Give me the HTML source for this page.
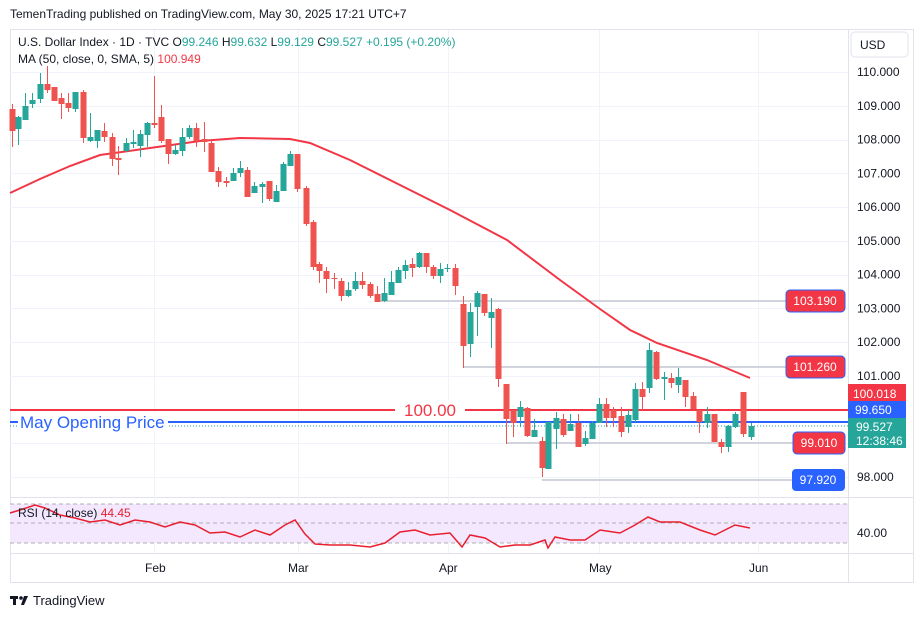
<!DOCTYPE html>
<html><head><meta charset="utf-8"><style>
body{margin:0;background:#fff;width:923px;height:618px;overflow:hidden;font-family:"Liberation Sans",sans-serif}
svg{position:absolute;left:0;top:0}
text{font-family:"Liberation Sans",sans-serif}
</style></head><body>
<svg id="s" width="923" height="618" xmlns="http://www.w3.org/2000/svg">
<text x="10" y="18" font-size="12" fill="#131722">TemenTrading published on TradingView.com, May 30, 2025 17:21 UTC+7</text>
<rect x="10.5" y="29.5" width="903" height="553" fill="none" stroke="#e0e3eb"/>
<line x1="848.5" y1="30" x2="848.5" y2="583" stroke="#e0e3eb"/>
<line x1="10" y1="553.5" x2="913" y2="553.5" stroke="#e0e3eb"/>
<line x1="10" y1="497.5" x2="913" y2="497.5" stroke="#e0e3eb"/>
<g id="grid" stroke="#f0f3fa"></g>
<g stroke="#f0f3fa"><line x1="154.5" y1="30" x2="154.5" y2="553"/><line x1="298.5" y1="30" x2="298.5" y2="553"/><line x1="448.5" y1="30" x2="448.5" y2="553"/><line x1="599.5" y1="30" x2="599.5" y2="553"/><line x1="758.5" y1="30" x2="758.5" y2="553"/></g>
<rect x="851" y="32" width="57" height="25" rx="4" fill="#fff" stroke="#e0e3eb"/>
<text x="860" y="49" font-size="12" fill="#131722">USD</text>
<g id="ax" font-size="12" fill="#131722"></g>
<rect x="10" y="504" width="838" height="39" fill="#f3e8fd"/>
<g stroke="#9598a1" stroke-dasharray="4,3" stroke-width="0.8"><line x1="10" y1="504" x2="848" y2="504"/><line x1="10" y1="523" x2="848" y2="523"/><line x1="10" y1="543" x2="848" y2="543"/></g>
<polyline fill="none" stroke="#e91e2e" stroke-width="1.5" points="10,513 20,510 35,505 45,508 60,515 75,518 90,522 105,520 120,525 135,520 150,522 165,527 180,522 195,525 210,533 225,532 240,537 255,530 270,535 285,525 295,520 305,534 315,544 330,545 350,545 370,547 385,543 400,532 415,530 430,535 450,533 462,547 470,535 485,538 500,547 515,545 530,545 545,540 548,548 555,537 570,540 585,540 600,530 620,533 635,525 648,517 660,522 680,522 700,530 715,535 735,525 750,528"/>
<text x="18" y="517" font-size="12" fill="#131722">RSI (14, close) <tspan fill="#e91e2e">44.45</tspan></text>
<text x="857" y="537" font-size="12" fill="#131722">40.00</text>
<g font-size="12" fill="#131722"><text x="145" y="572">Feb</text><text x="288" y="572">Mar</text><text x="439" y="572">Apr</text><text x="589" y="572">May</text><text x="749" y="572">Jun</text></g>
<g stroke="#d1d4dc" stroke-width="2"><line x1="380" y1="301" x2="790" y2="301"/><line x1="463" y1="367" x2="790" y2="367"/><line x1="506" y1="443" x2="793" y2="443"/><line x1="542" y1="480" x2="793" y2="480"/></g>
<line x1="10" y1="410" x2="848" y2="410" stroke="#f23645" stroke-width="2"/>
<rect x="395" y="400" width="70" height="20" fill="#fff"/>
<text x="430" y="416" font-size="17" fill="#f23645" text-anchor="middle">100.00</text>
<line x1="10" y1="422" x2="848" y2="422" stroke="#2962ff" stroke-width="2"/>
<line x1="10" y1="426" x2="848" y2="426" stroke="#26a69a" stroke-dasharray="1,2"/>
<rect x="18" y="413" width="150" height="18" fill="#fff"/>
<text x="20" y="428" font-size="17" fill="#2962ff">May Opening Price</text>
<polyline fill="none" stroke="#f23645" stroke-width="2" points="10,193 40,179 70,166 100,155 150,148 200,141 240,138 290,139 310,143 350,160 400,185 450,210 507,240 560,280 600,309 630,330 657,343 707,360 750,378"/>
<g id="c"></g>
<g font-size="12" fill="#fff">
<rect x="786" y="290" width="59" height="22" rx="4" fill="#f23645" stroke="#2962ff"/><text x="815" y="305" text-anchor="middle">103.190</text>
<rect x="786" y="356" width="59" height="22" rx="4" fill="#f23645" stroke="#2962ff"/><text x="815" y="371" text-anchor="middle">101.260</text>
<rect x="793" y="432" width="52" height="22" rx="4" fill="#f23645" stroke="#2962ff"/><text x="819" y="447" text-anchor="middle">99.010</text>
<rect x="792" y="469" width="53" height="22" rx="4" fill="#2962ff"/><text x="818" y="484" text-anchor="middle">97.920</text>
<rect x="848" y="384" width="58" height="19" fill="#f23645"/><text x="853" y="398">100.018</text>
<rect x="848" y="401" width="58" height="18" fill="#2962ff"/><text x="855" y="414">99.650</text>
<rect x="848" y="418" width="58" height="30" fill="#26a69a"/><text x="856" y="431">99.527</text><text x="856" y="445">12:38:46</text>
</g>
<text x="18" y="46" font-size="12" fill="#131722">U.S. Dollar Index · 1D · TVC O<tspan fill="#26a69a">99.246 </tspan>H<tspan fill="#26a69a">99.632 </tspan>L<tspan fill="#26a69a">99.129 </tspan>C<tspan fill="#26a69a">99.527 +0.195 (+0.20%)</tspan></text>
<text x="18" y="63" font-size="12" fill="#131722">MA (50, close, 0, SMA, 5) <tspan fill="#f23645">100.949</tspan></text>
<g fill="#131722"><rect x="10" y="596" width="8" height="3"/><rect x="13" y="596" width="3" height="9"/><circle cx="21" cy="598" r="1.8"/><path d="M24 596h4l-4 9h-3z"/></g>
<text x="33" y="605" font-size="13" fill="#131722">TradingView</text>
</svg>
<script>
var ns="http://www.w3.org/2000/svg",g=document.getElementById('c');
function el(t,a,p){var e=document.createElementNS(ns,t);for(var k in a)e.setAttribute(k,a[k]);p.appendChild(e);return e;}
var D=[[12,109,131,104,147,0],[18,117,129,116,145,1],[25,106,120,93,120,1],[32,100,104,93,108,1],[40,84,99,73,103,1],[47,84,90,66,93,0],[54,87,101,87,101,0],[61,98,104,93,119,0],[68,103,108,93,112,0],[75,92,109,92,112,1],[83,92,138,90,143,0],[90,137,141,113,142,1],[97,130,141,130,148,1],[104,131,137,123,142,0],[112,137,159,133,166,0],[118,158,160,146,175,0],[126,143,151,138,152,1],[133,142,144,130,148,1],[140,134,146,130,157,1],[147,123,135,122,147,1],[154,123,125,76,128,0],[161,117,141,105,143,0],[168,139,154,139,164,0],[175,150,154,145,155,1],[182,137,151,128,156,1],[189,128,137,125,139,1],[196,128,141,123,147,0],[204,139,142,122,152,0],[211,143,172,140,172,0],[218,171,182,167,187,0],[226,181,183,177,187,0],[233,173,181,168,181,1],[240,168,173,161,177,1],[247,170,197,167,197,0],[254,186,193,182,193,1],[262,184,187,182,203,1],[269,181,199,181,201,0],[276,191,202,185,202,1],[283,164,191,162,191,1],[290,154,166,151,166,1],[297,154,189,154,192,0],[306,188,224,186,226,0],[313,222,267,220,270,0],[319,264,271,262,283,0],[326,271,279,267,293,0],[334,278,279,273,289,0],[341,281,296,278,301,0],[348,290,296,282,297,1],[355,281,289,272,291,1],[362,281,285,272,289,0],[370,284,296,282,298,0],[377,294,302,286,302,0],[384,293,301,278,302,1],[391,282,295,271,295,1],[398,270,283,267,283,1],[405,265,271,260,279,1],[412,264,268,258,277,0],[419,253,267,252,268,1],[426,253,267,253,273,0],[433,267,276,265,279,0],[440,269,276,263,283,1],[447,268,269,264,272,1],[455,268,286,264,295,0],[463,304,346,296,368,0],[470,312,344,303,357,1],[477,293,307,291,336,1],[484,294,313,294,316,0],[491,312,318,298,348,1],[498,309,379,308,387,0],[506,384,419,384,444,0],[513,410,423,410,437,0],[520,407,417,401,427,1],[527,408,436,407,437,0],[534,430,437,419,437,1],[542,441,468,437,477,0],[548,422,469,422,469,1],[556,418,429,412,449,1],[563,419,435,414,437,0],[570,424,431,414,431,1],[578,423,447,414,447,0],[585,438,444,431,446,1],[592,423,439,421,439,1],[599,404,423,398,423,1],[606,404,418,398,427,0],[613,410,418,407,427,0],[621,416,432,407,437,0],[628,415,427,410,433,1],[635,389,420,383,422,1],[642,389,397,382,410,0],[649,350,388,343,393,1],[656,352,379,351,380,0],[664,377,379,372,400,1],[671,378,383,373,388,0],[678,377,385,368,393,1],[685,380,397,380,407,0],[693,396,409,392,410,0],[699,410,422,410,433,0],[707,414,423,407,428,1],[714,414,442,414,442,0],[721,442,447,439,453,0],[728,426,447,425,452,1],[735,414,427,412,428,1],[743,392,434,392,437,0],[751,426,437,423,440,1]];
D.forEach(function(d){var c=d[5]?'#26a69a':'#ef5350';el('line',{x1:d[0]+.5,x2:d[0]+.5,y1:d[3],y2:d[4],stroke:c},g);el('rect',{x:d[0]-2.5,y:d[1],width:6,height:Math.max(1,d[2]-d[1]),fill:c},g);});
var gr=document.getElementById('grid'),ax=document.getElementById('ax');
for(var i=0;i<=12;i++){var y=72+i*33.75;el('line',{x1:10,x2:848,y1:Math.round(y)+.5,y2:Math.round(y)+.5},gr);if(i!=10&&i!=11){var t=el('text',{x:857,y:y+4},ax);t.textContent=(110-i).toFixed(3);}}
</script>
</body></html>
